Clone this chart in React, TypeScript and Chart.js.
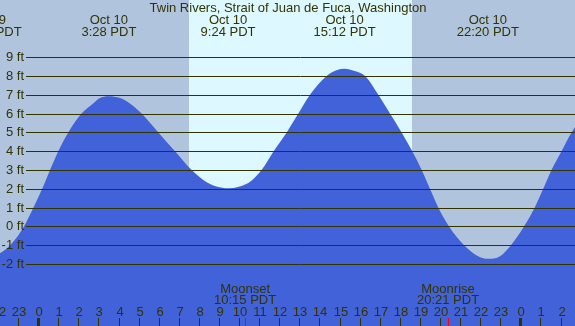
import React, { useEffect, useRef } from "react";
import { Chart, registerables } from "chart.js";

Chart.register(...registerables);

// Hours relative to midnight of Oct 10 (PDT)
const tideHours = [-3, -2.42, -1.95, -1.4, -0.76, -0.29, 0.15, 0.54, 0.95, 1.45, 2.11, 2.7, 3.0, 3.47, 4.0, 4.5, 5.1, 5.93, 6.76, 7.59, 8.34, 8.67, 9.45, 10.33, 10.66, 11.07, 11.67, 12.32, 12.9, 13.48, 14.31, 14.8, 15.2, 15.7, 16.22, 16.88, 17.46, 18.04, 18.57, 19.04, 19.45, 19.87, 20.4, 21.15, 21.78, 22.35, 22.94, 23.48, 24.13, 24.66, 25.09, 25.5, 26.0, 26.5, 27.5, 28.5];
const tideHeights = [-1.5, -1.56, -1.42, -0.95, 0, 1, 2, 3, 4, 5, 6, 6.55, 6.82, 6.93, 6.84, 6.55, 6, 5, 4, 3, 2.35, 2.18, 2.03, 2.27, 2.53, 3, 4, 5, 6, 7, 8, 8.3, 8.38, 8.26, 8, 7, 6, 5, 4, 3, 2, 1, 0, -1, -1.54, -1.72, -1.58, -1, 0, 1, 2, 3, 4, 5, 6.4, 7.0];

const footTicks = [-2, -1, 0, 1, 2, 3, 4, 5, 6, 7, 8, 9];
const hourTicks = [-2, -1, 0, 1, 2, 3, 4, 5, 6, 7, 8, 9, 10, 11, 12, 13, 14, 15, 16, 17, 18, 19, 20, 21, 22, 23, 24, 25, 26];

const tideEventHours = [-2.42, 3.47, 9.4, 15.2, 22.33];
const tideEventDates = ["Oct 9", "Oct 10", "Oct 10", "Oct 10", "Oct 10"];
const tideEventTimes = ["21:35 PDT", "3:28 PDT", "9:24 PDT", "15:12 PDT", "22:20 PDT"];

const moonEventHours = [10.25, 20.35];
const moonEventNames = ["Moonset", "Moonrise"];
const moonEventTimes = ["10:15 PDT", "20:21 PDT"];

const sunriseHour = 7.45;
const sunsetHour = 18.55;

const title = "Twin Rivers, Strait of Juan de Fuca, Washington";

const X_MIN = -1.95;
const X_MAX = 26.67;
const Y_MIN = -5.29;
const Y_MAX = 12.04;

const NIGHT = "#b0c4de";
const DAY = "#ddf8ff";
const WATER = "#4162d8";
const INK = "#333300";
const FONT = "13px 'Liberation Sans', Arial, sans-serif";

const tidePlugin = {
  id: "tideDecor",
  beforeDatasetsDraw(chart: any) {
    const { ctx, chartArea, scales } = chart;
    const x = scales.x;
    ctx.save();
    ctx.fillStyle = NIGHT;
    ctx.fillRect(chartArea.left, chartArea.top, chartArea.right - chartArea.left, chartArea.bottom - chartArea.top);
    const xs = Math.round(x.getPixelForValue(sunriseHour));
    const xe = Math.round(x.getPixelForValue(sunsetHour));
    ctx.fillStyle = DAY;
    ctx.fillRect(xs, chartArea.top, xe - xs, chartArea.bottom - chartArea.top);
    ctx.restore();
  },
  afterDatasetsDraw(chart: any) {
    const { ctx, chartArea, scales } = chart;
    const x = scales.x;
    const y = scales.y;
    ctx.save();
    ctx.font = FONT;
    ctx.fillStyle = INK;
    ctx.strokeStyle = INK;
    ctx.lineWidth = 1;
    ctx.textAlign = "right";
    ctx.textBaseline = "middle";
    footTicks.forEach((f) => {
      const py = Math.round(y.getPixelForValue(f)) + 0.5;
      ctx.beginPath();
      ctx.moveTo(26, py);
      ctx.lineTo(chartArea.right, py);
      ctx.stroke();
      ctx.fillText(f + " ft", 24, py);
    });
    ctx.textAlign = "center";
    ctx.textBaseline = "alphabetic";
    ctx.fillText(title, 288, 12);
    tideEventHours.forEach((h, i) => {
      const px = x.getPixelForValue(h);
      ctx.fillText(tideEventDates[i], px, 24);
      ctx.fillText(tideEventTimes[i], px, 36);
    });
    moonEventHours.forEach((h, i) => {
      const px = x.getPixelForValue(h);
      ctx.fillText(moonEventNames[i], px, 293);
      ctx.fillText(moonEventTimes[i], px, 304);
    });
    hourTicks.forEach((h) => {
      const px = Math.round(x.getPixelForValue(h));
      const lab = String(((h % 24) + 24) % 24);
      ctx.fillStyle = INK;
      ctx.fillText(lab, px, 316);
      if (h % 24 === 0) {
        ctx.fillRect(px - 2, 318, 3, chartArea.bottom - 318);
      } else {
        ctx.fillRect(px - 1, 318, 1, chartArea.bottom - 318);
      }
    });
    ctx.fillStyle = "#ff0000";
    moonEventHours.forEach((h) => {
      const px = Math.round(x.getPixelForValue(h));
      ctx.fillRect(px, 318, 1, chartArea.bottom - 318);
    });
    ctx.restore();
  },
};

export default function App() {
  const ref = useRef<HTMLCanvasElement>(null);
  useEffect(() => {
    if (!ref.current) return;
    const points = tideHours.map((h, i) => ({ x: h, y: tideHeights[i] }));
    const chart = new Chart(ref.current, {
      type: "line",
      data: {
        datasets: [
          {
            data: points,
            fill: "start",
            backgroundColor: WATER,
            borderWidth: 0,
            borderColor: WATER,
            pointRadius: 0,
            cubicInterpolationMode: "monotone",
          },
        ],
      },
      options: {
        animation: false,
        responsive: false,
        maintainAspectRatio: false,
        devicePixelRatio: 1,
        layout: { padding: 0 },
        plugins: { legend: { display: false }, tooltip: { enabled: false }, title: { display: false } },
        events: [],
        scales: {
          x: { type: "linear", min: X_MIN, max: X_MAX, display: false },
          y: { type: "linear", min: Y_MIN, max: Y_MAX, display: false },
        },
      },
      plugins: [tidePlugin],
    } as any);
    return () => chart.destroy();
  }, []);
  return (
    <div style={{ position: "absolute", left: 0, top: 0, width: 575, height: 326 }}>
      <canvas ref={ref} width={575} height={326} style={{ display: "block", width: 575, height: 326 }} />
    </div>
  );
}
